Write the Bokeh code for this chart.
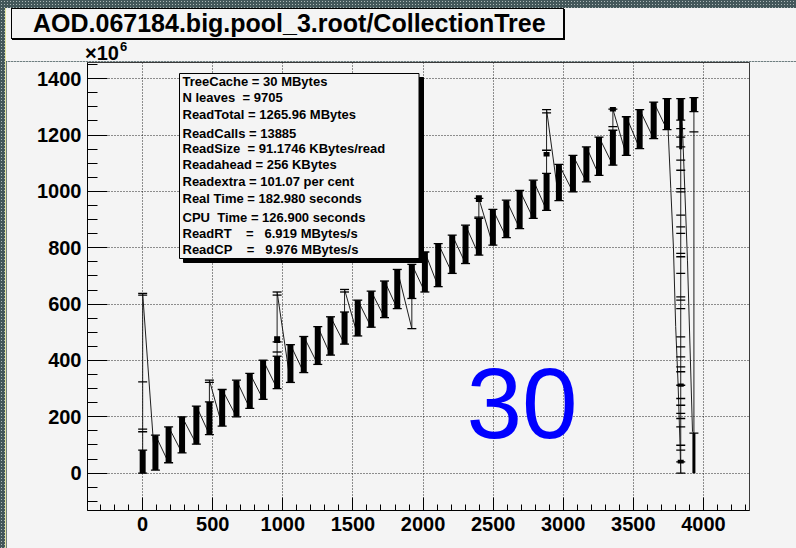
from bokeh.plotting import figure
from bokeh.models import Range1d, FixedTicker, Div
from bokeh.layouts import column
from bokeh.embed import file_html
from bokeh.resources import INLINE
from bokeh.core.properties import value

# ---------------- data ----------------
title_text = "AOD.067184.big.pool_3.root/CollectionTree"
exp_base = "\u00d710"
exp_power = "6"

cluster_x = [0, 91, 185, 281, 383, 476, 567, 669, 764, 859, 959, 1054, 1149, 1249,
             1340, 1440, 1534, 1630, 1725, 1816, 1920, 2013, 2108, 2208, 2303, 2398,
             2498, 2594, 2689, 2786, 2881, 2969, 3069, 3165, 3255, 3354, 3450, 3545,
             3645, 3740, 3838, 3932]
cluster_lo = [0, 11, 37, 72, 103, 137, 167, 200, 230, 262, 300, 322, 357, 386,
              419, 458, 487, 518, 552, 584, 620, 643, 662, 709, 744, 774,
              809, 836, 868, 904, 933, 967, 998, 1034, 1057, 1093, 1128, 1152,
              1187, 1219, 1253, 1283]
cluster_hi = [82, 135, 164, 200, 238, 253, 297, 330, 354, 401, 415, 456, 485, 520,
              555, 572, 614, 646, 682, 723, 741, 785, 815, 845, 880, 904,
              936, 969, 1004, 1040, 1064, 1096, 1128, 1158, 1193, 1217, 1265, 1290,
              1317, 1329, 1329, 1333]

spike_x = [0, 476, 959, 1440, 2398, 2881, 3354]
spike_top = [638, 330, 643, 652, 975, 1290, 1292]
dip_x = [1920]
dip_val = [513]

# tail of the read sequence (after the last regular cluster)
tail_x = [3748, 3767, 3786, 3802, 3819, 3833, 3838, 3838, 3838, 3850, 3886, 3922, 3932, 3932, 3932]
tail_y = [1219, 1010, 800, 520, 318, 100, 0, 1253, 1329, 1229, 756, 147, 142, 0, 1333]

tick_x = [0, 0, 0, 0, 476, 959, 959, 959, 1440, 2398, 2881, 2881, 3354, 3932, 3932]
tick_y = [147, 156, 324, 632, 322, 430, 466, 632, 643, 909, 1146, 1279, 1230, 1211, 142]
ao_tick_y = [1223, 1193, 1158, 1111, 1075, 1010, 998, 916, 874, 851, 780, 768, 709, 626,
             614, 584, 484, 448, 413, 377, 360, 312, 265, 241, 212, 194, 164, 99, 82, 40, 0]

block_x = [959, 2398, 2881, 3354, 3838, 3838]
block_lo = [462, 962, 1124, 1284, 307, 34]
block_hi = [486, 986, 1140, 1300, 318, 48]
thin_x = [3838, 3932]
thin_lo = [1150, 0]
thin_hi = [1253, 142]

stats_lines = [
    "TreeCache = 30 MBytes",
    "N leaves\u00a0 = 9705",
    "ReadTotal = 1265.96 MBytes",
    "ReadCalls = 13885",
    "ReadSize\u00a0 = 91.1746 KBytes/read",
    "Readahead = 256 KBytes",
    "Readextra = 101.07 per cent",
    "Real Time = 182.980 seconds",
    "CPU\u00a0 Time = 126.900 seconds",
    "ReadRT\u00a0\u00a0\u00a0 =\u00a0\u00a0 6.919 MBytes/s",
    "ReadCP\u00a0\u00a0\u00a0 =\u00a0\u00a0 9.976 MBytes/s",
]
big_label = "30"

x_major = [0, 500, 1000, 1500, 2000, 2500, 3000, 3500, 4000]
y_major = [0, 200, 400, 600, 800, 1000, 1200, 1400]

# ---------------- geometry ----------------
X0, X1 = -393.5, 4328.5
Y0, Y1 = -132.5, 1457.5
PADL, PADT = 6, 8          # page offset of the content
HEAD = 53                  # height of the header strip above the figure
FL, FT, FW, FH = 81, 1, 662, 448
W = 790
H = FT + FH + 38


def dx(px):
    return X0 + (px - PADL - FL) / FW * (X1 - X0)


def dy(py):
    return Y1 - (py - PADT - HEAD - FT) / FH * (Y1 - Y0)


PAD = "#f4f4f4"
FONT = "Liberation Sans"

p = figure(width=W, height=H, frame_width=FW, frame_height=FH,
           min_border_left=FL, min_border_top=FT,
           min_border_right=W - FL - FW, min_border_bottom=H - FT - FH,
           x_range=Range1d(X0, X1), y_range=Range1d(Y0, Y1),
           output_backend="svg", toolbar_location=None)
p.background_fill_color = PAD
p.border_fill_color = PAD
p.outline_line_color = "#3a3a3a"
p.outline_line_width = 1

p.xaxis.ticker = FixedTicker(ticks=x_major, minor_ticks=list(range(-300, 4400, 100)))
p.yaxis.ticker = FixedTicker(ticks=y_major, minor_ticks=list(range(-100, 1460, 50)))
for ax in (p.xaxis, p.yaxis):
    ax.axis_line_color = "black"
    ax.major_tick_line_color = "black"
    ax.minor_tick_line_color = "black"
    ax.major_tick_out = 0
    ax.minor_tick_out = 0
    ax.major_label_text_font = FONT
    ax.major_label_text_font_style = "bold"
    ax.major_label_text_font_size = "20px"
    ax.major_label_text_color = "black"
    ax.major_label_standoff = 6
p.xaxis.major_tick_in = 13
p.xaxis.minor_tick_in = 6
p.yaxis.major_tick_in = 20
p.yaxis.minor_tick_in = 10

for g in (p.xgrid, p.ygrid):
    g.grid_line_color = "black"
    g.grid_line_dash = "1 2"
    g.grid_line_width = 1
    g.grid_line_alpha = 0.85

# ---------------- path ----------------
path_x, path_y = [], []
n_regular = len(cluster_x) - 2
for i in range(n_regular):
    x = cluster_x[i]
    if x in dip_x:
        path_x.append(x)
        path_y.append(dip_val[dip_x.index(x)])
    path_x += [x, x]
    path_y += [cluster_lo[i], cluster_hi[i]]
    if x in spike_x:
        path_x.append(x)
        path_y.append(spike_top[spike_x.index(x)])
path_x += tail_x
path_y += tail_y

p.line(path_x, path_y, line_color="#1e1e1e", line_width=1)

# dense clusters -> thick bars
p.segment(x0=cluster_x, y0=cluster_lo, x1=cluster_x, y1=cluster_hi,
          line_color="black", line_width=6, line_cap="butt")
p.segment(x0=block_x, y0=block_lo, x1=block_x, y1=block_hi,
          line_color="black", line_width=6, line_cap="butt")
p.segment(x0=thin_x, y0=thin_lo, x1=thin_x, y1=thin_hi,
          line_color="black", line_width=3, line_cap="butt")

# '+' markers visible at ends and on sparse parts
mk_x = cluster_x + cluster_x + spike_x + dip_x + tick_x + [3838] * len(ao_tick_y)
mk_y = cluster_lo + cluster_hi + spike_top + dip_val + tick_y + ao_tick_y
p.scatter(mk_x, mk_y, marker="dash", size=9, line_color="black", line_width=1.3)

# ---------------- stats box ----------------
p.quad(left=[dx(183)], right=[dx(423)], top=[dy(77)], bottom=[dy(262)],
       fill_color="black", line_color="black")
p.quad(left=[dx(179)], right=[dx(418.5)], top=[dy(73)], bottom=[dy(258)],
       fill_color=PAD, line_color="black", line_width=1)
stat_cy = [80.7, 97.3, 114.3, 132.7, 148.3, 164.0, 180.7, 198.3, 217.3, 232.7, 249.3]
p.text(x=[dx(182)] * len(stats_lines), y=[dy(v) for v in stat_cy], text=stats_lines,
       text_font=value(FONT), text_font_style="bold", text_font_size=value("13px"),
       text_color="black", text_align="left", text_baseline="middle")

# big label
p.text(x=[dx(466)], y=[dy(403)], text=[big_label], text_font=value(FONT),
       text_font_size=value("100px"), text_color="#0000ff",
       text_align="left", text_baseline="middle")

# ---------------- header strip: title box and axis exponent ----------------
header_html = f"""
<div style="position:relative;width:{W}px;height:{HEAD}px;background:{PAD};">
  <div style="position:absolute;left:5px;top:0px;width:553px;height:31px;box-sizing:border-box;
       border:1px solid #000;box-shadow:1px 1px 0 #000;background:{PAD};padding-left:21px;
       font-family:'{FONT}';font-weight:bold;font-size:25px;line-height:28px;color:#000;
       white-space:nowrap;">{title_text}</div>
  <div style="position:absolute;left:79px;top:35px;font-family:'{FONT}';font-weight:bold;
       font-size:20px;line-height:20px;color:#000;white-space:nowrap;">{exp_base}</div>
  <div style="position:absolute;left:114px;top:32px;font-family:'{FONT}';font-weight:bold;
       font-size:13px;line-height:13px;color:#000;white-space:nowrap;">{exp_power}</div>
</div>
"""
header = Div(text=header_html, width=W, height=HEAD, margin=0,
             styles={"background-color": PAD})

p.styles = {"box-shadow": "-1px 0px 0px #e6e6a0"}
header.styles = {"background-color": PAD, "box-shadow": "-1px 0px 0px #e6e6a0"}

layout = column(header, p, spacing=0, styles={
    "background-color": "#43575a",
    "background-image": "radial-gradient(circle, #aab6b6 0.7px, transparent 0.9px)",
    "background-size": "3px 3px",
    "padding": "8px 0px 0px 6px",
})

open("out.html", "w").write(file_html(layout, INLINE))
